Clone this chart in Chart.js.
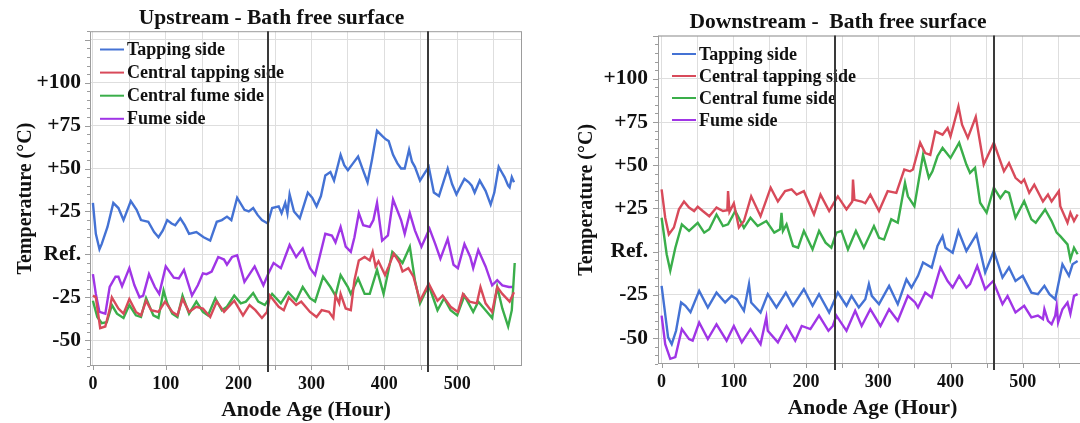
<!DOCTYPE html>
<html>
<head>
<meta charset="utf-8">
<title>Bath free surface temperature</title>
<script src="https://cdn.jsdelivr.net/npm/chart.js@4.4.1/dist/chart.umd.min.js"></script>
<style>
    html, body { margin: 0; padding: 0; background: #fff; }
    body { width: 1080px; height: 423px; overflow: hidden; position: relative; }
    canvas { position: absolute; top: 0; }
    #upChart { left: 0; }
    #downChart { left: 540px; }
</style>
</head>
<body>
<canvas id="upChart" width="540" height="423"></canvas>
<canvas id="downChart" width="560" height="423"></canvas>
<script>
// series labels and colours (same order in both panels)
const seriesNames = ['Tapping side', 'Central tapping side', 'Central fume side', 'Fume side'];
const seriesColors = ['#4472d4', '#d84a5a', '#3aae4a', '#a035e6'];

// axis ticks
const xTickValues = [0, 100, 200, 300, 400, 500];
const yTickValues = [-50, -25, 0, 25, 50, 75, 100];
const yTickText = ['-50', '-25', 'Ref.', '+25', '+50', '+75', '+100'];

// anode change markers (hours)
const phaseMarks = [240, 460];

// Upstream panel, [hour, temperature relative to ref]
const upTapping = [[0,30],[4,12],[9,3],[12,6],[20,16],[28,30],[35,27],[42,20],[52,31],[60,26],[66,20],[76,19],[84,13],[90,10],[96,14],[102,20],[108,18],[113,17],[120,21],[126,17],[132,12],[142,13],[152,10],[161,8],[170,19],[177,20],[184,22],[190,20],[198,33],[208,26],[214,25],[220,27],[226,23],[232,20],[240,18],[246,27],[255,28],[259,24],[264,30],[267,24],[270,35],[276,25],[284,21],[295,36],[301,33],[307,28],[313,34],[319,46],[326,48],[331,43],[340,58],[345,52],[350,49],[357,53],[364,57],[370,50],[377,42],[383,55],[390,72],[397,69],[402,67],[406,66],[412,58],[418,53],[423,50],[428,50],[434,61],[438,54],[442,51],[449,43],[455,47],[461,51],[468,36],[475,34],[481,42],[487,50],[493,41],[499,35],[505,40],[510,44],[516,42],[520,40],[524,36],[531,43],[539,37],[546,29],[551,36],[557,51],[561,48],[565,45],[570,40],[572,39],[575,45],[578,42]];
const upCentralTapping = [[0,-24],[4,-25],[10,-43],[17,-42],[23,-32],[26,-25],[35,-31.5],[42,-34.5],[50,-26],[59,-33.5],[66,-35.5],[73,-27],[80,-32.5],[90,-33.5],[99,-27.5],[109,-33.5],[116,-35.5],[123,-26],[132,-33.5],[142,-30.5],[151,-31.5],[161,-36.5],[170,-27.5],[180,-33.5],[194,-27],[206,-35.5],[215,-29.5],[223,-32.5],[232,-37],[239,-33.5],[243,-24],[255,-30.5],[262,-32.5],[269,-25],[279,-29.5],[286,-27.5],[298,-33.5],[307,-36.5],[314,-32.5],[324,-33.5],[330,-37],[333,-24],[338,-28.5],[340,-23],[347,-31.5],[354,-32.5],[359,-15],[365,-3.5],[373,-1.5],[380,-3.5],[384,1.5],[388,-7],[392,-4],[401,-12],[406,-7],[413,0.5],[421,-5],[425,-10],[433,-8],[440,-13],[449,-27],[461,-17],[473,-27],[480,-24],[491,-30.5],[501,-33.5],[508,-23],[517,-27.5],[527,-28.5],[532,-19],[539,-28.5],[548,-33.5],[555,-19],[562,-23],[572,-27.5],[578,-22]];
const upCentralFume = [[0,-27],[6,-36.5],[12,-40],[19,-39.5],[26,-29.5],[33,-34.5],[42,-37],[50,-29.5],[59,-35.5],[66,-36.5],[73,-25.5],[83,-35.5],[90,-37],[97,-21],[102,-28.5],[109,-34.5],[116,-36.5],[123,-24],[132,-34.5],[142,-27.5],[151,-33.5],[158,-35.5],[168,-25.5],[177,-32.5],[184,-30.5],[194,-24],[203,-28.5],[210,-27.5],[220,-22.5],[227,-27.5],[236,-29.5],[246,-23],[258,-28.5],[268,-22],[279,-27],[288,-19],[298,-25.5],[305,-27.5],[316,-13],[326,-19],[333,-24],[340,-12],[350,-19],[354,-23],[364,-14],[373,-23],[380,-23],[390,-9],[399,-23],[411,1.5],[418,-1.5],[425,-5],[435,4.5],[442,-15],[449,-28.5],[461,-18],[473,-32.5],[482,-25.5],[491,-32.5],[500,-35.5],[510,-24],[522,-33.5],[529,-27.5],[539,-32.5],[548,-37],[555,-19],[562,-31.5],[570,-42],[575,-32.5],[579,-5]];
const upFume = [[0,-11.5],[4,-23],[9,-33.5],[17,-34.5],[23,-19],[31,-13],[35,-13],[40,-18.5],[50,-8],[57,-18],[64,-25],[69,-24],[77,-11.5],[85,-19],[91,-23],[100,-7],[111,-13.5],[118,-14],[125,-9],[136,-24],[144,-18],[151,-11],[156,-11.5],[163,-10],[172,-1.5],[180,-3],[184,-6],[191,-1.5],[198,-0.5],[208,-16],[222,-7],[234,-18],[241,-11],[248,-5],[258,-8],[270,5.5],[279,-1.5],[288,3.5],[298,-8],[305,-12],[319,12],[328,11],[333,7],[340,16],[347,4.5],[354,1.5],[359,10],[365,24],[371,17],[380,16],[385,20],[390,30],[397,8],[405,11],[412,32],[423,20],[428,12],[435,24],[442,14],[451,4.5],[462,15],[470,6],[477,-2.5],[487,9],[495,-6],[501,-8],[510,6],[518,-1.5],[522,-8],[529,2.5],[539,-7],[548,-18],[555,-15],[562,-18],[571,-19],[578,-19]];

// Downstream panel
const downTapping = [[0,-19.8],[4,-33],[9,-49.6],[14,-53.5],[20,-45.8],[27,-29.4],[33,-31.3],[40,-35],[52,-22.7],[64,-32.3],[76,-23.7],[88,-29.4],[97,-25.6],[104,-27.5],[114,-34.2],[121,-18.8],[124,-29.4],[137,-35.2],[147,-24.6],[159,-32.3],[172,-23.7],[182,-31.3],[197,-21.7],[209,-31.3],[218,-24.6],[232,-35.2],[244,-23.7],[256,-31.3],[263,-25.6],[273,-32.3],[282,-27.5],[287,-18.8],[291,-25.6],[301,-30.4],[315,-19.8],[327,-30.4],[339,-16],[346,-20.8],[355,-14],[362,-6.3],[374,-9.2],[382,3.3],[389,9],[393,2.3],[403,-0.6],[411,11.9],[422,0.4],[429,5.2],[436,10],[448,-12],[460,0.4],[472,-15],[481,-9.2],[490,-17],[500,-14],[512,-23.7],[521,-24.6],[530,-19.8],[537,-24.6],[545,-27.5],[555,-7.3],[564,-14],[569,-7.3],[576,-5.4]];
const downCentralTapping = [[0,36],[5,19.6],[10,10],[17,14],[24,24.5],[31,29],[38,25.5],[45,23.5],[50,26],[57,23.5],[66,20.5],[76,25.5],[85,23.5],[91,24],[92,35],[94,23],[100,28],[107,14],[114,17.7],[124,32],[137,20.5],[151,37],[161,29],[171,35],[180,36],[187,33],[197,35],[211,21.5],[220,33],[232,23.5],[241,30],[244,32],[256,24.5],[264,29],[265,41.7],[267,30],[277,29],[282,28],[289,33],[301,23.5],[313,35],[325,34],[336,47.5],[344,46.5],[348,47.5],[358,63],[365,57],[372,56],[379,69.6],[389,67.7],[396,71.5],[400,66.7],[405,74.4],[411,84],[416,73.5],[424,65.8],[435,78],[446,50.4],[460,63],[474,46.5],[481,51.3],[490,42.7],[498,39.8],[502,41.7],[509,34],[516,38.8],[528,29],[535,33],[540,29],[550,35],[552,26.3],[562,16.7],[566,22.5],[571,17.7],[576,21.5]];
const downCentralFume = [[0,19.6],[7,-1.5],[12,-11],[19,2.3],[28,15.8],[38,12],[50,16.7],[59,11],[66,13],[76,21.5],[85,14.8],[92,15.8],[102,23.5],[114,13.8],[123,19.6],[133,14.8],[145,17.7],[156,11],[164,13],[166,22.5],[168,12],[173,15.8],[182,3.3],[189,2.3],[197,12],[209,1.3],[218,12],[227,5.2],[235,2.3],[242,11],[249,12],[258,1.3],[269,12],[280,2.3],[294,14.8],[301,8],[308,7],[318,18.7],[327,16.7],[337,39.8],[341,32],[350,26.3],[362,56],[370,42.7],[375,46.5],[382,55.2],[389,60],[400,54.2],[412,63],[422,50.4],[427,45.6],[434,48.5],[441,28.3],[450,22.5],[460,37],[469,31],[476,35],[481,34],[490,19.6],[502,29.2],[512,18.7],[518,16.7],[531,24.4],[540,17.7],[547,11],[552,9],[562,4.2],[566,-4.4],[571,2.3],[576,-1.5]];
const downFume = [[0,-37],[5,-53.5],[12,-62],[19,-61],[28,-44.8],[38,-50.6],[43,-51.5],[52,-41],[64,-50.6],[76,-42],[90,-51.5],[100,-43],[111,-52.5],[123,-44.8],[137,-53.5],[145,-38],[147,-45.8],[161,-52.5],[173,-43],[185,-51.5],[194,-43],[206,-44.8],[218,-37],[231,-45.8],[237,-43],[242,-37],[256,-45.8],[268,-34.2],[277,-43],[289,-33.3],[303,-43],[315,-33.3],[327,-40],[341,-25.6],[351,-29.4],[355,-32.3],[365,-23.7],[374,-26.5],[386,-9.2],[396,-17],[403,-20.8],[412,-14],[422,-20.8],[427,-18.8],[437,-8.3],[448,-21.7],[459,-17],[472,-30.4],[479,-25.6],[490,-35.2],[502,-31.3],[512,-38],[521,-37],[528,-39],[530,-33.3],[535,-40],[540,-42],[545,-37],[547,-31.3],[549,-41],[555,-33.3],[562,-29.4],[566,-36],[571,-25.6],[576,-24.6]];

const SERIF = '"Liberation Serif", "Times New Roman", serif';

function font(size) {
    return { family: SERIF, size: size, weight: 'bold', lineHeight: 1.2 };
}

// legend inside the plot, anode change lines, frame and minor ticks
const panelDecor = {
    id: 'panelDecor',
    afterDatasetsDraw(chart, args, opts) {
        const { ctx, chartArea: a } = chart;
        const x = chart.scales.x, y = chart.scales.y;
        ctx.save();

        ctx.strokeStyle = '#9c9c9c';
        ctx.lineWidth = 1;
        ctx.strokeRect(a.left + 0.5, a.top + 0.5, a.right - a.left - 1, a.bottom - a.top - 1);

        ctx.beginPath();
        for (let v = Math.ceil(y.min / 5) * 5; v <= y.max; v += 5) {
            const py = Math.round(y.getPixelForValue(v)) + 0.5;
            ctx.moveTo(a.left - (v % 25 === 0 ? 5 : 3), py);
            ctx.lineTo(a.left, py);
        }
        for (let h = 0; h <= x.max; h += 50) {
            const px = Math.round(x.getPixelForValue(h)) + 0.5;
            ctx.moveTo(px, a.bottom);
            ctx.lineTo(px, a.bottom + 4);
        }
        ctx.stroke();

        ctx.font = 'bold 18px ' + SERIF;
        ctx.textBaseline = 'middle';
        ctx.textAlign = 'left';
        chart.data.datasets.forEach((ds, i) => {
            const lx = a.left + opts.legendLeft;
            const ly = a.top + opts.legendTop + i * opts.legendGap;
            ctx.strokeStyle = ds.borderColor;
            ctx.lineWidth = 2;
            ctx.beginPath();
            ctx.moveTo(lx, ly);
            ctx.lineTo(lx + 24, ly);
            ctx.stroke();
            ctx.fillStyle = '#111';
            ctx.fillText(ds.label, lx + 27, ly + 1);
        });

        ctx.strokeStyle = '#3a3a3a';
        ctx.lineWidth = 2;
        phaseMarks.forEach(h => {
            const px = Math.round(x.getPixelForValue(h));
            ctx.beginPath();
            ctx.moveTo(px, a.top);
            ctx.lineTo(px, a.bottom + 6);
            ctx.stroke();
        });
        ctx.restore();
    }
};

function makePanel(canvasId, title, series, p) {
    const ctx = document.getElementById(canvasId).getContext('2d');
    return new Chart(ctx, {
        type: 'line',
        data: {
            datasets: series.map((pts, i) => ({
                label: seriesNames[i],
                data: pts.map(([h, v]) => ({ x: h, y: v })),
                borderColor: seriesColors[i],
                backgroundColor: seriesColors[i],
                borderWidth: 2.4,
                pointRadius: 0,
                tension: 0,
                fill: false
            }))
        },
        options: {
            responsive: false,
            animation: false,
            devicePixelRatio: 1,
            layout: { padding: { left: p.padLeft, right: p.padRight, top: 0, bottom: 0 } },
            plugins: {
                legend: { display: false },
                tooltip: { enabled: false },
                title: {
                    display: true,
                    text: title,
                    color: '#111',
                    font: font(21.5),
                    padding: { top: p.titleTop, bottom: 0 }
                },
                panelDecor: { legendLeft: p.legendLeft, legendTop: p.legendTop, legendGap: p.legendGap }
            },
            scales: {
                x: {
                    type: 'linear',
                    min: p.xMin,
                    max: p.xMax,
                    afterFit: s => { s.height = p.xHeight; },
                    grid: { color: '#dedede', drawTicks: false },
                    border: { display: false },
                    ticks: {
                        stepSize: 50,
                        includeBounds: false,
                        autoSkip: false,
                        maxRotation: 0,
                        padding: 8,
                        color: '#111',
                        font: font(18),
                        callback: v => xTickValues.includes(v) ? String(v) : ''
                    },
                    title: {
                        display: true,
                        text: 'Anode Age (Hour)',
                        color: '#111',
                        font: font(21.5),
                        padding: { top: 0, bottom: p.xTitleBottom }
                    }
                },
                y: {
                    min: p.yMin,
                    max: p.yMax,
                    afterFit: s => { s.width = p.yWidth; },
                    grid: { color: '#dedede', drawTicks: false },
                    border: { display: false },
                    ticks: {
                        stepSize: 25,
                        includeBounds: false,
                        padding: p.yTickPad,
                        color: '#111',
                        font: font(21.5),
                        callback: v => {
                            const i = yTickValues.indexOf(v);
                            return i >= 0 ? yTickText[i] : '';
                        }
                    },
                    title: {
                        display: true,
                        text: 'Temperature (°C)',
                        color: '#111',
                        font: font(20),
                        padding: { top: p.yTitlePad, bottom: 0 }
                    }
                }
            }
        },
        plugins: [panelDecor]
    });
}

function init() {
    makePanel('upChart', 'Upstream - Bath free surface',
        [upTapping, upCentralTapping, upCentralFume, upFume], {
            padLeft: 21, padRight: 18, yWidth: 69, xHeight: 57,
            titleTop: 5.4, xTitleBottom: 0, yTitlePad: -7, yTickPad: 9,
            xMin: -4, xMax: 589, yMin: -65, yMax: 130,
            legendLeft: 10, legendTop: 18.3, legendGap: 23.1
        });
    makePanel('downChart', 'Downstream -  Bath free surface',
        [downTapping, downCentralTapping, downCentralFume, downFume], {
            padLeft: 49, padRight: 13, yWidth: 69, xHeight: 59,
            titleTop: 9.8, xTitleBottom: 1.7, yTitlePad: -14.5, yTickPad: 10,
            xMin: -5, xMax: 589, yMin: -65, yMax: 125,
            legendLeft: 14, legendTop: 18.4, legendGap: 22
        });
}

window.onload = init;
</script>
</body>
</html>
